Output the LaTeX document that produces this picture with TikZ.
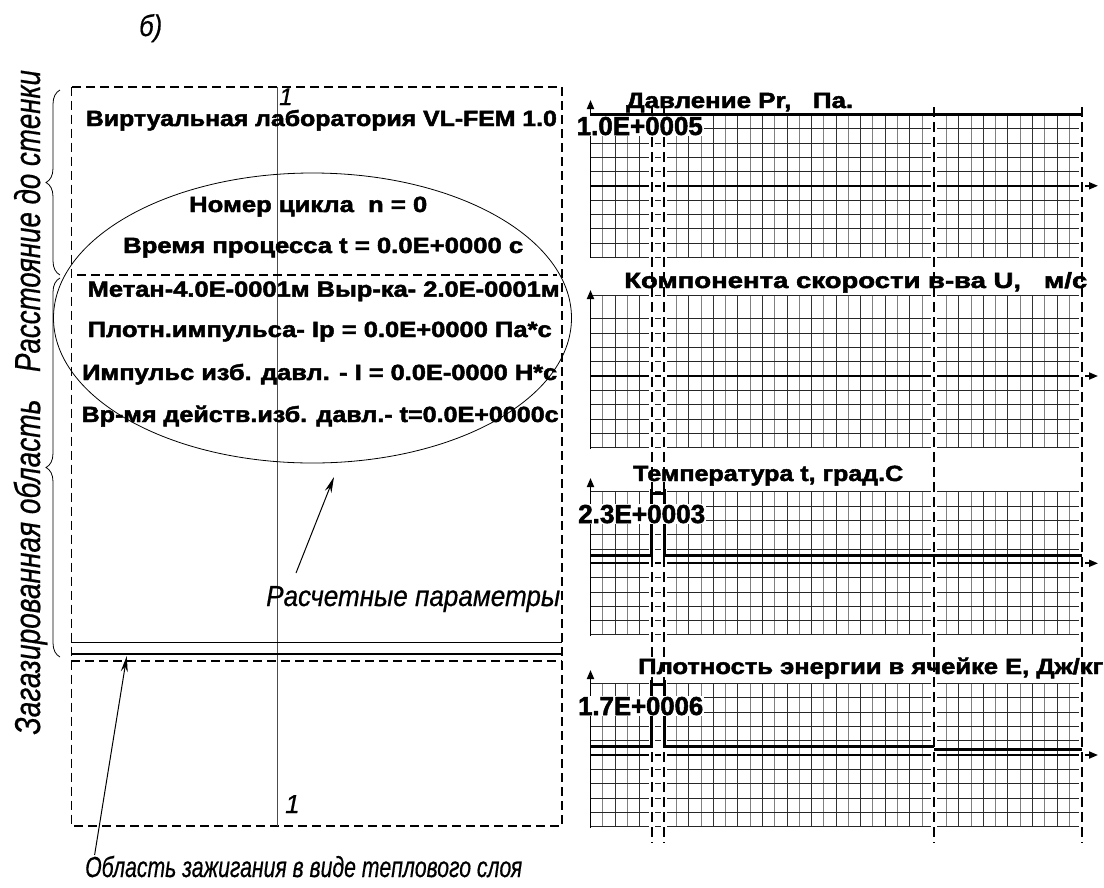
\documentclass[tikz,border=0pt]{standalone}
\usepackage{fontspec}
\setmainfont{Liberation Sans}[BoldFeatures={FakeBold=2},ItalicFeatures={FakeBold=0.6}]
\usetikzlibrary{arrows.meta,decorations.pathreplacing}
\newcommand\fitw[2]{\resizebox{#1}{\height}{#2}}
\newcommand\mkgrid[3]{%
  \foreach \k in {0,...,40}{%
    \ifodd\k
      \draw[gridv] ({590.5+12.275*\k},#1) -- ({590.5+12.275*\k},{#2+71.5});
    \else
      \draw[gridvd] ({590.5+12.275*\k},#1) -- ({590.5+12.275*\k},{#2+71.5});
    \fi}
  \foreach \j in {#3,...,5}{%
    \draw[gridh] (590.5,{#2+14.3*\j}) -- (1081.5,{#2+14.3*\j});}%
}
\begin{document}
\begin{tikzpicture}[x=1pt,y=-1pt,
  bt/.style={font=\bfseries\fontsize{22}{24}\selectfont, inner sep=0pt, anchor=base west},
  gt/.style={font=\bfseries\fontsize{22}{24}\selectfont, inner sep=0pt, anchor=base west},
  vt/.style={font=\bfseries\fontsize{26}{28}\selectfont, inner sep=1pt, anchor=base west, fill=white},
  lt/.style={font=\itshape\fontsize{29}{31}\selectfont, inner sep=0pt, anchor=base west},
  rt/.style={font=\itshape\fontsize{36}{38}\selectfont, inner sep=0pt, anchor=base, rotate=90},
  bord/.style={line width=1.8pt, dash pattern=on 9pt off 5pt},
  vdash/.style={line width=2pt, dash pattern=on 10pt off 5pt},
  halo/.style={white, line width=6pt},
  gridv/.style={black!50, line width=0.8pt},
  gridvd/.style={black!80, line width=0.8pt},
  gridh/.style={black!85, line width=0.8pt},
  sig/.style={line width=3pt},
  ptr/.style={-{Stealth[length=16pt,width=7pt]}, line width=1pt},
  ax/.style={-{Triangle[length=9pt,width=7pt]}, line width=1.8pt},
  thinln/.style={line width=0.8pt},
  brc/.style={decorate, decoration={brace, amplitude=14pt}, line width=0.8pt}
]
\fill[white] (0,0) rectangle (1104,887);
\useasboundingbox (0,0) rectangle (1104,887);

% ---------- left panel ----------
\draw[bord] (71.4,86.7) rectangle (562,826);
\draw[thinln, black!70] (277,86.7) -- (277,826);
\draw[bord] (77,275) -- (557,275);
\draw[line width=1.5pt] (71.4,642.3) -- (562,642.3);
\draw[line width=1.5pt] (71.4,654) -- (562,654);
\draw[bord] (71.4,661) -- (562,661);
\draw[thinln] (312.5,318) ellipse [x radius=259, y radius=145];

\draw[brc] (60,275) -- (60,90);
\draw[brc] (60,657) -- (60,278);

\node[rt] (rs) at (40,221) {\fitw{302pt}{Расстояние до стенки}};
\node[rt] (zo) at (40,567) {\fitw{335pt}{Загазированная область}};

\node[lt, font=\itshape\fontsize{30}{32}\selectfont] (lb) at (139,36) {\fitw{23pt}{б)}};
\node[lt, font=\itshape\fontsize{24}{26}\selectfont] (n1) at (279,105) {1};
\node[lt, font=\itshape\fontsize{26}{28}\selectfont] (n2) at (285,813) {1};

\node[bt] (l1) at (85.7,126) {\fitw{471pt}{Виртуальная лаборатория VL-FEM 1.0}};
\node[bt] (l2) at (189,212) {\fitw{238pt}{Номер цикла\ \ n = 0}};
\node[bt] (l3) at (123,253) {\fitw{400pt}{Время процесса t = 0.0E+0000 c}};
\node[bt] (l4) at (87.5,296.7) {\fitw{472pt}{Метан-4.0E-0001м Выр-ка- 2.0E-0001м}};
\node[bt] (l5) at (87.5,337) {\fitw{464pt}{Плотн.импульса- Ip = 0.0E+0000 Па*с}};
\node[bt] (l6) at (82,380) {\fitw{475pt}{Импульс изб. давл. - I = 0.0E-0000 Н*с}};
\node[bt] (l7) at (81.4,422) {\fitw{477pt}{Вр-мя действ.изб. давл.- t=0.0E+0000c}};

\node[lt] (rp) at (266,606) {\fitw{294pt}{Расчетные параметры}};
\node[lt] (oz) at (85,877) {\fitw{437pt}{Область зажигания в виде теплового слоя}};

\coordinate (p1s) at (296,573);
\coordinate (p1e) at (334,477);
\draw[ptr] (p1s) -- (p1e);
\coordinate (p2s) at (94.6,855);
\coordinate (p2e) at (126.8,656);
\draw[ptr] (p2s) -- (p2e);

% ---------- right panel: grids ----------
\mkgrid{114.3}{185.8}{-5}
\mkgrid{295}{376}{-4}
\draw[gridh] (590.5,295) -- (1081.5,295);
\mkgrid{491.8}{563.3}{-5}
\mkgrid{683.5}{755}{-5}

% axes
\draw[ax] (590.5,258) -- (590.5,100);
\draw[ax] (590.5,185.8) -- (1098,185.8);
\draw[ax] (590.5,449) -- (590.5,290);
\draw[ax] (590.5,376) -- (1098,376);
\draw[ax] (590.5,636) -- (590.5,478);
\draw[ax] (590.5,563.3) -- (1098,563.3);
\draw[ax] (590.5,828) -- (590.5,670);
\draw[ax] (590.5,755) -- (1098,755);

% vertical dashed markers
\foreach \xx in {651.9,664.2,934.3,1081.5}{
  \draw[halo] (\xx,107) -- (\xx,843);
}
\foreach \xx in {651.9,664.2,934.3,1081.5}{
  \draw[vdash] (\xx,107) -- (\xx,843);
}

% signals
\draw[sig] (590.5,114.3) -- (1081.5,114.3);
\draw[sig] (590.5,555.7) -- (651.9,555.7) -- (651.9,489) (651.9,493.3) -- (664.2,493.3) (664.2,489) -- (664.2,555.7) -- (1081.5,555.7);
\draw[sig] (590.5,746.7) -- (651.9,746.7) -- (651.9,680) (651.9,684.5) -- (664.2,684.5) (664.2,680) -- (664.2,746.7) -- (934.3,746.7);
\draw[sig] (934.3,749.5) -- (1081.5,749.5);

% titles and values
\node[gt] (g1t) at (626,108) {\fitw{227pt}{Давление Pr,\ \ \ Па.}};
\node[gt] (g2t) at (624,288) {\fitw{463pt}{Компонента скорости в-ва U,\ \ \ м/с}};
\node[gt] (g3t) at (633,481) {\fitw{270pt}{Температура t, град.С}};
\node[gt] (g4t) at (638,674) {\fitw{465pt}{Плотность энергии в ячейке E, Дж/кг}};
\node[vt] (g1v) at (575.6,135) {\fitw{126pt}{1.0E+0005}};
\node[vt] (g3v) at (577,523) {\fitw{127pt}{2.3E+0003}};
\node[vt] (g4v) at (577,715) {\fitw{125pt}{1.7E+0006}};
\end{tikzpicture}
\end{document}
